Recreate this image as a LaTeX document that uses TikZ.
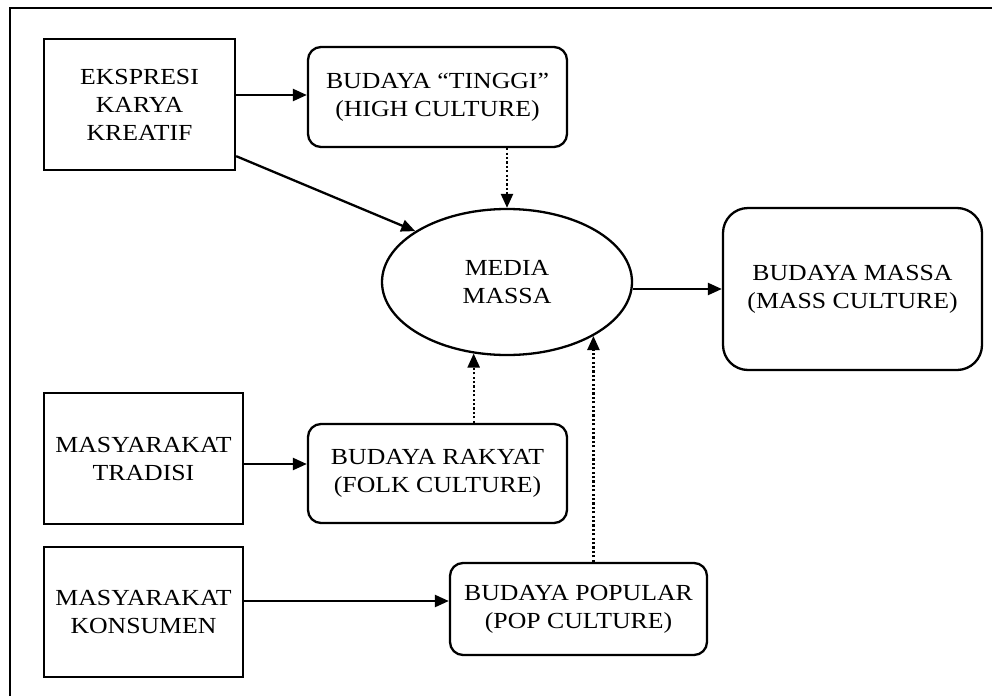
\documentclass[tikz,border=0pt]{standalone}
\usepackage{fontspec}
\setmainfont{Liberation Serif}[FakeStretch=1.12]
\usetikzlibrary{arrows.meta,shapes.geometric}
\begin{document}
\begin{tikzpicture}[x=1pt,y=-1pt,
  every node/.style={font=\fontsize{23}{28}\selectfont, align=center, inner sep=0pt, line width=2.3pt},
  sqbox/.style={draw, rectangle},
  rbox/.style={draw, rectangle, rounded corners=13pt},
  conn/.style={line width=2.3pt, -{Triangle[length=14pt,width=12pt]}},
  dotconn/.style={conn, dash pattern=on 2.2pt off 2.2pt}]
\useasboundingbox (0,0) rectangle (992,696);

% outer frame
\draw[line width=2.8pt] (10,696) -- (10,8) -- (992,8);

% source boxes
\node[sqbox, minimum width=191pt, minimum height=131pt] (ekspresi) at (139.5,104.5) {EKSPRESI\\KARYA\\KREATIF};
\node[sqbox, minimum width=199pt, minimum height=131pt] (tradisi) at (143.5,458.5) {MASYARAKAT\\TRADISI};
\node[sqbox, minimum width=199pt, minimum height=130pt] (konsumen) at (143.5,612) {MASYARAKAT\\KONSUMEN};

% culture boxes
\node[rbox, minimum width=259pt, minimum height=100pt] (tinggi) at (437.5,97) {BUDAYA “TINGGI”\\(HIGH CULTURE)};
\node[rbox, minimum width=259pt, minimum height=99pt] (rakyat) at (437.5,473.5) {BUDAYA RAKYAT\\(FOLK CULTURE)};
\node[rbox, minimum width=257pt, minimum height=92pt] (popular) at (578.5,609) {BUDAYA POPULAR\\(POP CULTURE)};

% mass media and mass culture
\node[draw, ellipse, minimum width=250pt, minimum height=146pt] (media) at (507,282) {MEDIA\\MASSA};
\node[rbox, rounded corners=25pt, minimum width=259pt, minimum height=162pt] (massa) at (852.5,289) {BUDAYA MASSA\\(MASS CULTURE)};

% connectors
\draw[conn] ([yshift=9.5pt]ekspresi.east) coordinate (e1) -- (e1 -| tinggi.west);
\draw[conn] ([yshift=15pt]ekspresi.south east) -- (media.151.5);
\draw[dotconn] (media.north |- tinggi.south) -- (media.north);
\draw[dotconn] (media.245.6 |- rakyat.north) -- (media.245.6);
\draw[dotconn] (media.-32.7 |- popular.north) -- (media.-32.7);
\draw[conn] (media.east |- massa.west) -- (massa.west);
\draw[conn] ([yshift=-5.5pt]tradisi.east) coordinate (t1) -- (t1 -| rakyat.west);
\draw[conn] ([yshift=11pt]konsumen.east) coordinate (k1) -- (k1 -| popular.west);
\end{tikzpicture}
\end{document}
